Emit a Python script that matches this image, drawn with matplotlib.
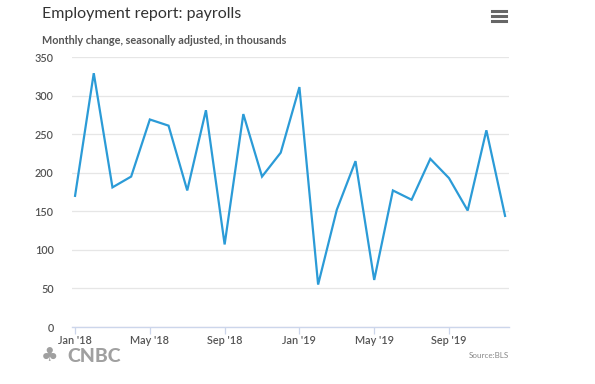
import matplotlib
matplotlib.use("Agg")
import matplotlib.pyplot as plt
from matplotlib.lines import Line2D
import numpy as np

months = ["Jan '18", "Feb '18", "Mar '18", "Apr '18", "May '18", "Jun '18", "Jul '18", "Aug '18",
          "Sep '18", "Oct '18", "Nov '18", "Dec '18", "Jan '19", "Feb '19", "Mar '19", "Apr '19",
          "May '19", "Jun '19", "Jul '19", "Aug '19", "Sep '19", "Oct '19", "Nov '19", "Dec '19"]
payrolls = [170, 329, 181, 195, 269, 261, 177, 281, 107, 276, 195, 226,
            311, 55, 152, 215, 61, 177, 165, 218, 193, 151, 255, 144]
y_ticks = [0, 50, 100, 150, 200, 250, 300, 350]
x_tick_idx = [0, 4, 8, 12, 16, 20]

plt.rcParams['font.family'] = ['Lato', 'DejaVu Sans']

W, H = 595, 384
fig = plt.figure(figsize=(W / 100, H / 100), dpi=100)
ax = fig.add_axes([71.7 / W, 1 - 327 / H, (509 - 71.7) / W, (327 - 57) / H])

x = np.arange(len(payrolls))
ax.plot(x, payrolls, color='#2b9bd7', lw=1.6, solid_joinstyle='miter', zorder=3)

ax.set_ylim(0, 350)
ax.set_xlim(-0.18, 23.21)
ax.set_yticks(y_ticks)
ax.set_yticklabels([str(v) for v in y_ticks])
ax.set_xticks(x_tick_idx)
ax.set_xticklabels([months[i] for i in x_tick_idx])

ax.grid(axis='y', color='#e6e6e6', lw=0.9, zorder=0)
ax.grid(axis='x', visible=False)
for s in ['top', 'right', 'left']:
    ax.spines[s].set_visible(False)
ax.spines['bottom'].set_color('#ccd6eb')
ax.spines['bottom'].set_linewidth(1.0)
ax.spines['bottom'].set_zorder(1)
ax.tick_params(axis='y', length=0, pad=13, labelsize=7.8, labelcolor='#555555')
ax.tick_params(axis='x', length=5, width=0.9, color='#ccd6eb', pad=1,
               labelsize=7.8, labelcolor='#555555')
for lbl in ax.get_xticklabels() + ax.get_yticklabels():
    lbl.set_fontweight('semibold')

fig.text(42 / W, 1 - 14 / H, "Employment report: payrolls", fontsize=11.5,
         color='#333333', va='center', ha='left')
fig.text(42 / W, 1 - 40 / H, "Monthly change, seasonally adjusted, in thousands", fontsize=7.8,
         color='#555555', va='center', ha='left', fontweight='bold')

# menu icon
for yy in (11, 16, 21):
    fig.add_artist(Line2D([492 / W, 506 / W], [1 - yy / H, 1 - yy / H],
                          color='#666666', lw=2.2, transform=fig.transFigure))

fig.text(67 / W, 1 - 357 / H, "CNBC", fontsize=14, color='#a0a0a0', fontweight='black',
         va='center', ha='left')
fig.text(41 / W, 1 - 356 / H, "\u2663", fontsize=14, color='#a0a0a0', va='center', ha='left',
         family=['DejaVu Sans'])
fig.text(509 / W, 1 - 355.5 / H, "Source:BLS", fontsize=5.8, color='#888888',
         va='center', ha='right')

fig.savefig("out.png", dpi=100, facecolor='white')
